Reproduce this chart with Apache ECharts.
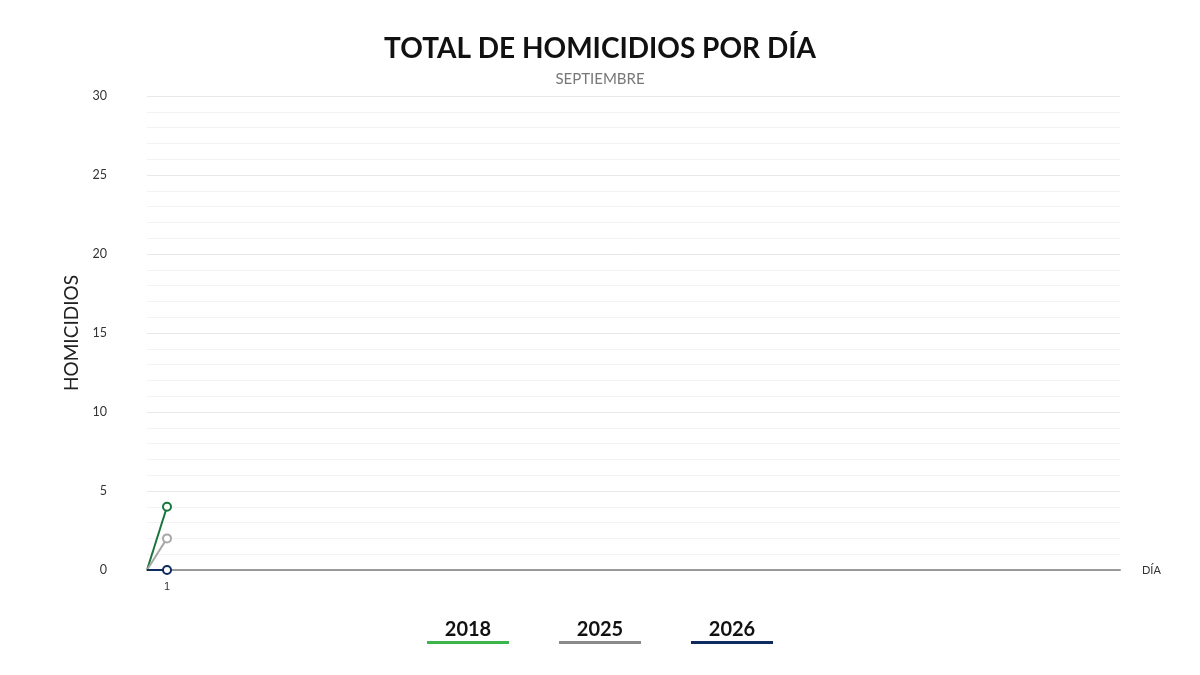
<!DOCTYPE html>
<html><head><meta charset="utf-8">
<script src="https://cdn.jsdelivr.net/npm/echarts@6/dist/echarts.min.js"></script>
<style>html,body{margin:0;padding:0;background:#fff}#c{width:1200px;height:675px}</style>
</head><body><div id="c"></div>
<script>
const days = [0, 1];
const years = ['2018', '2025', '2026'];
const values2018 = [0, 4];
const values2025 = [0, 2];
const values2026 = [0, 0];
const lineColors = ['#17773a', '#a8a8a8', '#0e2a5e'];
const legendColors = ['#3cb54a', '#8a8a8a', '#0e2a5e'];
const seriesValues = [values2018, values2025, values2026];

const chart = echarts.init(document.getElementById('c'));
const legendX = [468, 600, 732];
const graphic = [];
years.forEach((y, i) => {
  graphic.push({type:'text', x: legendX[i], y: 630, style:{text:y, font:'bold 20px Lato, "Open Sans", sans-serif', fill:'#111', align:'center', verticalAlign:'middle'}});
  graphic.push({type:'rect', shape:{x: legendX[i]-41, y:641, width:82, height:3}, style:{fill: legendColors[i]}});
});
chart.setOption({
  animation:false,
  title:{text:'TOTAL DE HOMICIDIOS POR DÍA', subtext:'SEPTIEMBRE', left:'center', top:30,
    textStyle:{fontFamily:'Lato, sans-serif', fontWeight:'bold', fontSize:28, color:'#111'},
    subtextStyle:{fontFamily:'Lato, sans-serif', fontSize:15, color:'#777'}, itemGap:9},
  grid:{left:147, right:80, top:96, bottom:105},
  xAxis:{type:'value', min:0, max:48.65, interval:1, name:'DÍA', nameLocation:'end', nameGap:22,
    nameTextStyle:{fontSize:11, color:'#333', fontFamily:'Lato, sans-serif'},
    axisLine:{lineStyle:{color:'#9a9a9a', width:2}}, axisTick:{show:false}, splitLine:{show:false},
    axisLabel:{fontSize:11, color:'#333', margin:11, formatter:v => (days.includes(v) && v>0) ? String(v) : ''}},
  yAxis:{type:'value', min:0, max:30, interval:5, name:'HOMICIDIOS', nameLocation:'middle', nameGap:60,
    nameTextStyle:{fontSize:19, color:'#222', fontFamily:'Lato, sans-serif'},
    axisLine:{show:false}, axisTick:{show:false},
    axisLabel:{fontSize:12.5, color:'#333', margin:40, fontFamily:'Lato, sans-serif'},
    splitLine:{lineStyle:{color:'#e8e8e8'}},
    minorTick:{show:false, splitNumber:5},
    minorSplitLine:{show:true, lineStyle:{color:'#f3f3f3'}}},
  graphic: graphic,
  series: years.map((y,i) => ({
    name:y, type:'line', data: days.map((d,j)=>[d, seriesValues[i][j]]),
    symbol:'emptyCircle', symbolSize:8, showSymbol:true,
    lineStyle:{color:lineColors[i], width:2},
    itemStyle:{color:lineColors[i], borderColor:lineColors[i], borderWidth:2},
    z: 10 + i
  })).map(s => { s.data = s.data.map((p,j)=> j===0 ? {value:p, symbol:'none'} : p); return s; })
});
</script></body></html>
